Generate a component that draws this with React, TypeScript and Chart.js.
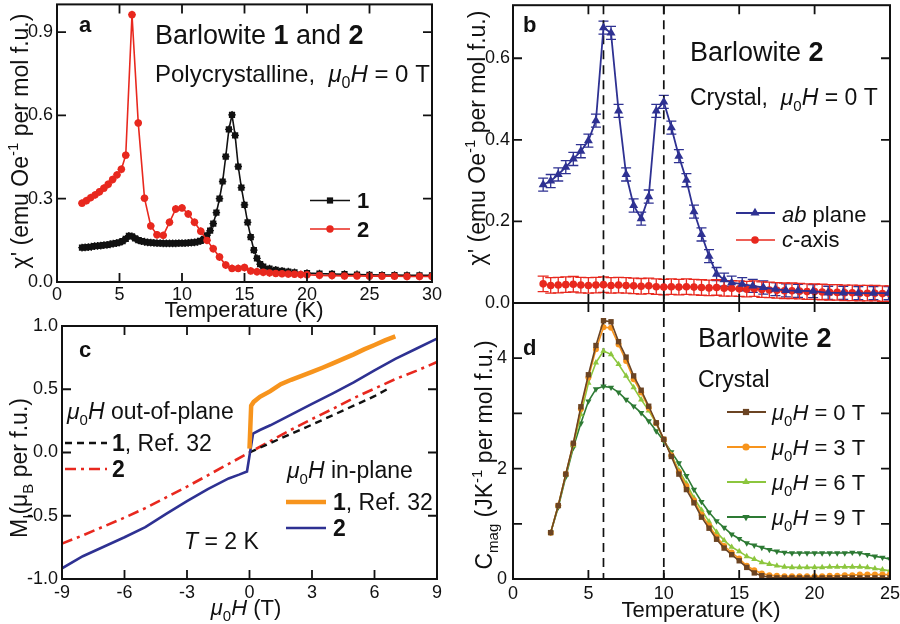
import React, { useEffect, useRef } from 'react';
import { Chart, registerables } from 'chart.js';
import { drawPoint } from 'chart.js/helpers';

Chart.register(...registerables);

const FONT = '"Liberation Sans", Arial, Helvetica, sans-serif';
const INK = '#111111';
const RED = '#e8281e';
const NAVY = '#2e3192';
const ORANGE = '#f7941d';
const BROWN = '#6b4423';
const LGREEN = '#8cc63e';
const DGREEN = '#2d7a34';

// ---------------- Panel a: polycrystalline chi' ----------------
const aT1 = [2, 2.25, 2.5, 2.75, 3, 3.25, 3.5, 3.75, 4, 4.25, 4.5, 4.75, 5, 5.25, 5.5, 5.75, 6, 6.25, 6.5, 6.75, 7, 7.25, 7.5, 7.75, 8, 8.25, 8.5, 8.75, 9, 9.25, 9.5, 9.75, 10, 10.25, 10.5, 10.75, 11, 11.25, 11.5, 11.75, 12, 12.25, 12.5, 12.75, 13, 13.25, 13.5, 13.75, 14, 14.25, 14.5, 14.75, 15, 15.25, 15.5, 15.75, 16, 16.25, 16.5, 17, 17.5, 18, 18.5, 19, 20, 21, 22, 23, 24, 25, 26, 27, 28, 29, 30];
const aChi1 = [0.124, 0.125, 0.126, 0.127, 0.129, 0.130, 0.131, 0.133, 0.134, 0.136, 0.138, 0.140, 0.143, 0.147, 0.155, 0.166, 0.164, 0.157, 0.151, 0.147, 0.145, 0.143, 0.142, 0.141, 0.140, 0.140, 0.139, 0.139, 0.139, 0.139, 0.139, 0.140, 0.140, 0.140, 0.141, 0.142, 0.143, 0.145, 0.148, 0.155, 0.168, 0.185, 0.210, 0.250, 0.300, 0.362, 0.452, 0.550, 0.602, 0.528, 0.416, 0.340, 0.278, 0.215, 0.162, 0.115, 0.085, 0.064, 0.055, 0.048, 0.044, 0.040, 0.037, 0.035, 0.032, 0.030, 0.029, 0.028, 0.027, 0.026, 0.025, 0.025, 0.024, 0.024, 0.024];
const aT2 = [2, 2.35, 2.7, 3.05, 3.4, 3.75, 4.1, 4.45, 4.8, 5.15, 5.5, 6, 6.5, 7, 7.5, 8, 8.5, 9, 9.5, 10, 10.5, 11, 11.5, 12, 12.5, 13, 13.5, 14, 14.5, 15, 15.5, 16, 16.5, 17, 17.5, 18, 18.5, 19, 19.5, 20, 21, 22, 23, 24, 25, 26, 27, 28, 29, 30];
const aChi2 = [0.284, 0.293, 0.304, 0.314, 0.325, 0.338, 0.352, 0.369, 0.386, 0.406, 0.457, 0.963, 0.573, 0.302, 0.202, 0.170, 0.168, 0.215, 0.263, 0.267, 0.245, 0.215, 0.183, 0.150, 0.120, 0.090, 0.061, 0.049, 0.049, 0.052, 0.040, 0.037, 0.035, 0.033, 0.031, 0.030, 0.029, 0.028, 0.027, 0.026, 0.024, 0.023, 0.022, 0.022, 0.021, 0.021, 0.021, 0.020, 0.020, 0.020];
const aXTicks = [0, 5, 10, 15, 20, 25, 30];
const aYTicks = [0, 0.3, 0.6, 0.9];

// ---------------- Panel b: crystal chi' ----------------
const bT1 = [2, 2.5, 3, 3.5, 4, 4.5, 5, 5.5, 6, 6.5, 7, 7.5, 8, 8.5, 9, 9.5, 10, 10.5, 11, 11.5, 12, 12.5, 13, 13.5, 14, 14.5, 15.2, 15.9, 16.6, 17.4, 18.1, 18.9, 19.9, 20.9, 21.9, 22.9, 23.9, 24.9];
const bChiAb = [0.290, 0.299, 0.315, 0.333, 0.353, 0.372, 0.398, 0.447, 0.675, 0.662, 0.471, 0.315, 0.239, 0.207, 0.261, 0.471, 0.493, 0.430, 0.360, 0.301, 0.224, 0.168, 0.115, 0.071, 0.057, 0.050, 0.046, 0.042, 0.038, 0.034, 0.031, 0.030, 0.029, 0.025, 0.025, 0.024, 0.024, 0.024];
const bT2 = [2, 2.5, 3, 3.5, 4, 4.5, 5, 5.5, 6, 6.5, 7, 7.5, 8, 8.5, 9, 9.5, 10, 10.5, 11, 11.5, 12, 12.5, 13, 13.5, 14, 14.5, 15, 15.5, 16, 16.5, 17, 17.5, 18, 18.5, 19, 19.5, 20, 20.5, 21, 21.5, 22, 22.5, 23, 23.5, 24, 24.5, 25];
const bChiC = [0.047, 0.043, 0.044, 0.045, 0.046, 0.044, 0.043, 0.044, 0.045, 0.043, 0.044, 0.043, 0.042, 0.041, 0.042, 0.040, 0.039, 0.040, 0.039, 0.040, 0.039, 0.038, 0.037, 0.038, 0.036, 0.036, 0.035, 0.034, 0.035, 0.033, 0.032, 0.031, 0.030, 0.030, 0.029, 0.028, 0.028, 0.027, 0.026, 0.026, 0.025, 0.025, 0.024, 0.024, 0.024, 0.023, 0.023];
const bXTicks = [0, 5, 10, 15, 20, 25];
const bYTicks = [0, 0.2, 0.4, 0.6];
const markTemps = [6, 10];

// ---------------- Panel c: magnetization ----------------
const cH2in = [-9, -8, -7, -6, -5, -4, -3, -2, -1, -0.5, -0.12, 0.17, 0.5, 1, 2, 3, 4, 5, 6, 7, 8, 9];
const cM2in = [-0.916, -0.82, -0.745, -0.67, -0.59, -0.485, -0.385, -0.29, -0.205, -0.175, -0.15, 0.15, 0.178, 0.215, 0.30, 0.385, 0.468, 0.555, 0.65, 0.74, 0.82, 0.90];
const cH1in = [0, 0.04, 0.08, 0.2, 0.5, 1, 1.5, 2, 2.5, 3, 3.5, 4, 4.5, 5, 5.5, 6, 6.5, 7];
const cM1in = [0.03, 0.2, 0.37, 0.40, 0.44, 0.485, 0.54, 0.575, 0.605, 0.637, 0.67, 0.704, 0.74, 0.776, 0.815, 0.85, 0.886, 0.918];
const cH2out = [-9, -8, -7, -6, -5, -4, -3, -2, -1, 0, 1, 2, 3, 4, 5, 6, 7, 8, 9];
const cM2out = [-0.72, -0.655, -0.585, -0.515, -0.44, -0.355, -0.27, -0.18, -0.09, 0, 0.09, 0.18, 0.265, 0.345, 0.43, 0.505, 0.58, 0.645, 0.715];
const cH1out = [0, 1, 2, 3, 4, 5, 6, 6.6];
const cM1out = [0, 0.075, 0.148, 0.22, 0.295, 0.37, 0.445, 0.50];
const cXTicks = [-9, -6, -3, 0, 3, 6, 9];
const cYTicks = [-1, -0.5, 0, 0.5, 1];

// ---------------- Panel d: magnetic heat capacity ----------------
const dT = [2.5, 3, 3.5, 4, 4.5, 5, 5.5, 6, 6.5, 7, 7.5, 8, 8.5, 9, 9.5, 10, 10.5, 11, 11.5, 12, 12.5, 13, 13.5, 14, 14.5, 15, 15.5, 16, 16.5, 17, 17.5, 18, 18.5, 19, 19.5, 20, 20.5, 21, 21.5, 22, 22.5, 23, 23.5, 24, 24.5, 25];
const dC0 = [0.84, 1.33, 1.90, 2.46, 3.12, 3.70, 4.23, 4.68, 4.66, 4.30, 4.02, 3.68, 3.42, 3.13, 2.83, 2.53, 2.22, 1.90, 1.62, 1.38, 1.12, 0.92, 0.72, 0.56, 0.44, 0.33, 0.21, 0.11, 0.06, 0.03, 0.02, 0.02, 0.02, 0.02, 0.02, 0.02, 0.02, 0.02, 0.02, 0.02, 0.02, 0.02, 0.02, 0.02, 0.02, 0.02];
const dC3 = [0.84, 1.33, 1.90, 2.45, 3.08, 3.65, 4.16, 4.56, 4.55, 4.25, 3.95, 3.62, 3.38, 3.10, 2.82, 2.53, 2.24, 1.94, 1.68, 1.42, 1.17, 0.97, 0.76, 0.60, 0.48, 0.37, 0.24, 0.16, 0.10, 0.07, 0.06, 0.05, 0.05, 0.05, 0.05, 0.05, 0.05, 0.06, 0.06, 0.07, 0.07, 0.08, 0.08, 0.08, 0.08, 0.08];
const dC6 = [0.84, 1.33, 1.89, 2.42, 2.98, 3.55, 3.92, 4.13, 4.07, 3.89, 3.68, 3.47, 3.25, 3.05, 2.82, 2.52, 2.25, 1.97, 1.73, 1.47, 1.25, 1.04, 0.85, 0.70, 0.58, 0.50, 0.41, 0.36, 0.30, 0.27, 0.24, 0.22, 0.21, 0.21, 0.21, 0.21, 0.21, 0.22, 0.22, 0.22, 0.22, 0.22, 0.21, 0.19, 0.17, 0.15];
const dC9 = [0.84, 1.30, 1.85, 2.38, 2.82, 3.22, 3.44, 3.49, 3.47, 3.38, 3.25, 3.13, 3.01, 2.86, 2.68, 2.50, 2.30, 2.10, 1.87, 1.62, 1.40, 1.21, 1.05, 0.93, 0.81, 0.73, 0.65, 0.61, 0.57, 0.53, 0.50, 0.48, 0.47, 0.47, 0.47, 0.47, 0.47, 0.47, 0.47, 0.47, 0.48, 0.47, 0.44, 0.41, 0.39, 0.36];
const dXTicks = [0, 5, 10, 15, 20, 25];
const dYTicks = [0, 1, 2, 3, 4, 5];
const dFields = ['0', '3', '6', '9'];

// ---------------- helpers ----------------
const zip = (xs: number[], ys: number[]) => xs.map((x, i) => ({ x, y: ys[i] }));

type Seg = { t: string; b?: boolean; i?: boolean; sub?: boolean; sup?: boolean };

function segFont(s: Seg, size: number) {
  const sz = s.sub || s.sup ? Math.round(size * 0.66) : size;
  return `${s.i ? 'italic ' : ''}${s.b ? 'bold ' : ''}${sz}px ${FONT}`;
}

function richWidth(ctx: CanvasRenderingContext2D, segs: Seg[], size: number) {
  let w = 0;
  for (const s of segs) {
    ctx.font = segFont(s, size);
    w += ctx.measureText(s.t).width;
  }
  return w;
}

function drawRich(ctx: CanvasRenderingContext2D, segs: Seg[], x: number, y: number, size: number, align: 'left' | 'center' = 'left', rot = 0, color = INK) {
  ctx.save();
  ctx.translate(x, y);
  if (rot) ctx.rotate(rot);
  ctx.fillStyle = color;
  ctx.textBaseline = 'alphabetic';
  ctx.textAlign = 'left';
  const w = richWidth(ctx, segs, size);
  let cx = align === 'center' ? -w / 2 : 0;
  for (const s of segs) {
    ctx.font = segFont(s, size);
    const dy = s.sub ? size * 0.27 : s.sup ? -size * 0.42 : 0;
    ctx.fillText(s.t, cx, dy);
    cx += ctx.measureText(s.t).width;
  }
  ctx.restore();
}

function legLine(ctx: CanvasRenderingContext2D, x1: number, x2: number, y: number, color: string, width: number, dash: number[] = []) {
  ctx.save();
  ctx.strokeStyle = color;
  ctx.lineWidth = width;
  ctx.setLineDash(dash);
  ctx.beginPath();
  ctx.moveTo(x1, y);
  ctx.lineTo(x2, y);
  ctx.stroke();
  ctx.restore();
}

function legMarker(ctx: CanvasRenderingContext2D, style: string, x: number, y: number, radius: number, color: string, rotation = 0) {
  ctx.save();
  ctx.fillStyle = color;
  ctx.strokeStyle = color;
  drawPoint(ctx, { pointStyle: style as any, rotation, radius, borderWidth: 0 } as any, x, y);
  ctx.restore();
}

const MU0H: Seg[] = [{ t: 'μ', i: true }, { t: '0', sub: true }, { t: 'H', i: true }];

// ---------------- plugins ----------------
const errPlugin = {
  id: 'errbars',
  beforeDatasetsDraw(chart: any) {
    const { ctx, chartArea: a, scales } = chart;
    ctx.save();
    ctx.beginPath();
    ctx.rect(a.left, a.top, a.right - a.left, a.bottom - a.top);
    ctx.clip();
    chart.data.datasets.forEach((ds: any, i: number) => {
      if (!ds.errY && !ds.errX) return;
      const meta = chart.getDatasetMeta(i);
      ctx.strokeStyle = ds.errColor || ds.borderColor;
      ctx.lineWidth = 1.3;
      meta.data.forEach((pt: any, j: number) => {
        const raw = ds.data[j];
        const x = pt.x;
        const y = pt.y;
        ctx.beginPath();
        if (ds.errY) {
          const y1 = scales.y.getPixelForValue(raw.y + ds.errY);
          const y2 = scales.y.getPixelForValue(raw.y - ds.errY);
          ctx.moveTo(x, y1);
          ctx.lineTo(x, y2);
          if (ds.cap) {
            ctx.moveTo(x - ds.cap, y1);
            ctx.lineTo(x + ds.cap, y1);
            ctx.moveTo(x - ds.cap, y2);
            ctx.lineTo(x + ds.cap, y2);
          }
        }
        if (ds.errX) {
          const x1 = scales.x.getPixelForValue(raw.x - ds.errX);
          const x2 = scales.x.getPixelForValue(raw.x + ds.errX);
          ctx.moveTo(x1, y);
          ctx.lineTo(x2, y);
        }
        ctx.stroke();
      });
    });
    ctx.restore();
  },
};

function vlinePlugin(values: number[]) {
  return {
    id: 'vlines',
    beforeDatasetsDraw(chart: any) {
      const { ctx, chartArea: a, scales } = chart;
      ctx.save();
      ctx.strokeStyle = INK;
      ctx.lineWidth = 1.7;
      ctx.setLineDash([9, 6]);
      for (const v of values) {
        const px = scales.x.getPixelForValue(v);
        ctx.beginPath();
        ctx.moveTo(px, a.top);
        ctx.lineTo(px, a.bottom);
        ctx.stroke();
      }
      ctx.restore();
    },
  };
}

const framePlugin = {
  id: 'frameTicks',
  afterDatasetsDraw(chart: any) {
    const { ctx, chartArea: a, scales } = chart;
    const L = 9;
    ctx.save();
    ctx.strokeStyle = INK;
    ctx.lineWidth = 1.8;
    ctx.beginPath();
    for (const t of scales.x.ticks) {
      const px = scales.x.getPixelForValue(t.value);
      if (px < a.left + 2 || px > a.right - 2) continue;
      ctx.moveTo(px, a.top);
      ctx.lineTo(px, a.top + L);
      ctx.moveTo(px, a.bottom);
      ctx.lineTo(px, a.bottom - L);
    }
    for (const t of scales.y.ticks) {
      const py = scales.y.getPixelForValue(t.value);
      if (py < a.top + 2 || py > a.bottom - 2) continue;
      ctx.moveTo(a.left, py);
      ctx.lineTo(a.left + L, py);
      ctx.moveTo(a.right, py);
      ctx.lineTo(a.right - L, py);
    }
    ctx.stroke();
    ctx.lineWidth = 2;
    ctx.strokeRect(a.left, a.top, a.right - a.left, a.bottom - a.top);
    ctx.restore();
  },
};

// ---------------- panel specs ----------------
type Spec = {
  left: number; top: number; width: number; height: number;
  padTop: number; padRight: number; yWidth: number; xHeight: number;
  xMin: number; xMax: number; xTicks: number[]; xFmt: (v: number) => string; xShow: boolean; xPad: number;
  yMin: number; yMax: number; yTicks: number[]; yFmt: (v: number) => string; yPad: number;
  datasets: any[]; vlines: number[];
  draw: (ctx: CanvasRenderingContext2D) => void;
};

const specA: Spec = {
  left: 0, top: 0, width: 445, height: 324,
  padTop: 1, padRight: 13, yWidth: 57, xHeight: 42,
  xMin: 0, xMax: 30, xTicks: aXTicks, xFmt: (v) => String(v), xShow: true, xPad: 2,
  yMin: 0, yMax: 1.0, yTicks: aYTicks, yFmt: (v) => v.toFixed(1), yPad: 4,
  vlines: [],
  datasets: [
    { data: zip(aT2, aChi2), borderColor: RED, backgroundColor: RED, borderWidth: 1.6, pointStyle: 'circle', pointRadius: 3.7, pointBorderWidth: 0, errX: 0.3, errY: 0.014, order: 0 },
    { data: zip(aT1, aChi1), borderColor: INK, backgroundColor: INK, borderWidth: 1.6, pointStyle: 'rect', pointRadius: 4.4, pointBorderWidth: 0, errX: 0.3, errY: 0.014, order: 1 },
  ],
  draw: (ctx) => {
    drawRich(ctx, [{ t: 'a', b: true }], 79, 32, 22);
    drawRich(ctx, [{ t: 'Barlowite ' }, { t: '1', b: true }, { t: ' and ' }, { t: '2', b: true }], 155, 44, 27);
    drawRich(ctx, [{ t: 'Polycrystalline,  ' }, ...MU0H, { t: ' = 0 T' }], 155, 82, 24);
    legLine(ctx, 310, 350, 200.5, INK, 1.6);
    legMarker(ctx, 'rect', 330, 200.5, 4.4, INK);
    drawRich(ctx, [{ t: '1', b: true }], 357, 208, 22);
    legLine(ctx, 310, 350, 229, RED, 1.6);
    legMarker(ctx, 'circle', 330, 229, 3.7, RED);
    drawRich(ctx, [{ t: '2', b: true }], 357, 237, 22);
    drawRich(ctx, [{ t: "χ' (emu Oe" }, { t: '-1', sup: true }, { t: ' per mol f.u.)' }], 28, 141, 23, 'center', -Math.PI / 2);
    drawRich(ctx, [{ t: 'Temperature (K)' }], 244, 317, 22, 'center');
  },
};

const specB: Spec = {
  left: 445, top: 0, width: 455, height: 316,
  padTop: 1, padRight: 10, yWidth: 68, xHeight: 13,
  xMin: 0, xMax: 25, xTicks: bXTicks, xFmt: (v) => String(v), xShow: false, xPad: 2,
  yMin: 0, yMax: 0.73, yTicks: bYTicks, yFmt: (v) => v.toFixed(1), yPad: 3,
  vlines: markTemps,
  datasets: [
    { data: zip(bT1, bChiAb), borderColor: NAVY, backgroundColor: NAVY, borderWidth: 1.8, pointStyle: 'triangle', pointRadius: 5.2, pointBorderWidth: 0, errY: 0.016, cap: 5, order: 0 },
    { data: zip(bT2, bChiC), borderColor: RED, backgroundColor: RED, borderWidth: 1.6, pointStyle: 'circle', pointRadius: 3.8, pointBorderWidth: 0, errY: 0.019, cap: 5.5, order: 1 },
  ],
  draw: (ctx) => {
    drawRich(ctx, [{ t: 'b', b: true }], 523, 32, 22);
    drawRich(ctx, [{ t: 'Barlowite ' }, { t: '2', b: true }], 690, 61, 27);
    drawRich(ctx, [{ t: 'Crystal,  ' }, ...MU0H, { t: ' = 0 T' }], 690, 105, 23);
    legLine(ctx, 736, 775, 213, NAVY, 1.8);
    legMarker(ctx, 'triangle', 755, 213, 5.2, NAVY);
    drawRich(ctx, [{ t: 'ab', i: true }, { t: ' plane' }], 782, 222, 22);
    legLine(ctx, 736, 775, 240, RED, 1.6);
    legMarker(ctx, 'circle', 755, 240, 3.8, RED);
    drawRich(ctx, [{ t: 'c', i: true }, { t: '-axis' }], 782, 247, 22);
    drawRich(ctx, [{ t: "χ' (emu Oe" }, { t: '-1', sup: true }, { t: ' per mol f.u.)' }], 485, 138, 23, 'center', -Math.PI / 2);
  },
};

const specC: Spec = {
  left: 0, top: 316, width: 445, height: 308,
  padTop: 10, padRight: 8, yWidth: 62, xHeight: 45,
  xMin: -9, xMax: 9, xTicks: cXTicks, xFmt: (v) => String(v), xShow: true, xPad: 3,
  yMin: -1, yMax: 1, yTicks: cYTicks, yFmt: (v) => v.toFixed(1), yPad: 4,
  vlines: [],
  datasets: [
    { data: zip(cH1in, cM1in), borderColor: ORANGE, borderWidth: 4.5, pointRadius: 0, order: 0 },
    { data: zip(cH2in, cM2in), borderColor: NAVY, borderWidth: 2.6, pointRadius: 0, order: 1 },
    { data: zip(cH1out, cM1out), borderColor: INK, borderWidth: 2.4, borderDash: [7, 5], pointRadius: 0, order: 2 },
    { data: zip(cH2out, cM2out), borderColor: RED, borderWidth: 2.6, borderDash: [11, 5, 3, 5], pointRadius: 0, order: 3 },
  ],
  draw: (ctx) => {
    drawRich(ctx, [{ t: 'c', b: true }], 79, 357, 22);
    drawRich(ctx, [...MU0H, { t: ' out-of-plane' }], 67, 419, 23);
    legLine(ctx, 65, 107, 443, INK, 2.4, [7, 5]);
    drawRich(ctx, [{ t: '1', b: true }, { t: ', Ref. 32' }], 112, 451, 23);
    legLine(ctx, 65, 107, 469, RED, 2.6, [11, 5, 3, 5]);
    drawRich(ctx, [{ t: '2', b: true }], 112, 477, 23);
    drawRich(ctx, [...MU0H, { t: ' in-plane' }], 287, 478, 23);
    legLine(ctx, 286, 326, 502, ORANGE, 4.5);
    drawRich(ctx, [{ t: '1', b: true }, { t: ', Ref. 32' }], 333, 510, 23);
    legLine(ctx, 286, 326, 528, NAVY, 2.6);
    drawRich(ctx, [{ t: '2', b: true }], 333, 536, 23);
    drawRich(ctx, [{ t: 'T', i: true }, { t: ' = 2 K' }], 184, 549, 23);
    drawRich(ctx, [{ t: 'M' }, { t: 'I', sub: true }, { t: '(μ' }, { t: 'B', sub: true }, { t: ' per f.u.)' }], 27, 468, 23, 'center', -Math.PI / 2);
    drawRich(ctx, [...MU0H, { t: ' (T)' }], 246, 615, 22, 'center');
  },
};

const dColors = [BROWN, ORANGE, LGREEN, DGREEN];
const dStyles = ['rect', 'circle', 'triangle', 'triangle'];
const dRot = [0, 0, 0, 180];
const dRad = [3.8, 3.0, 3.6, 3.6];
const dSeries = [dC0, dC3, dC6, dC9];

const specD: Spec = {
  left: 445, top: 296, width: 455, height: 328,
  padTop: 7, padRight: 10, yWidth: 68, xHeight: 45,
  xMin: 0, xMax: 25, xTicks: dXTicks, xFmt: (v) => String(v), xShow: true, xPad: 4,
  yMin: 0, yMax: 5, yTicks: dYTicks, yFmt: (v) => (v % 2 === 0 ? String(v) : ''), yPad: 6,
  vlines: markTemps,
  datasets: dSeries.map((vals, k) => ({
    data: zip(dT, vals), borderColor: dColors[k], backgroundColor: dColors[k], borderWidth: 1.6,
    pointStyle: dStyles[k], pointRotation: dRot[k], pointRadius: dRad[k], pointBorderWidth: 0, order: k,
  })),
  draw: (ctx) => {
    drawRich(ctx, [{ t: 'd', b: true }], 523, 355, 22);
    drawRich(ctx, [{ t: 'Barlowite ' }, { t: '2', b: true }], 698, 347, 27);
    drawRich(ctx, [{ t: 'Crystal' }], 698, 387, 23);
    const rows = [412, 447, 482, 517];
    rows.forEach((y, k) => {
      legLine(ctx, 727, 766, y, dColors[k], 1.8);
      legMarker(ctx, dStyles[k], 746, y, dRad[k] + 0.6, dColors[k], dRot[k]);
      drawRich(ctx, [...MU0H, { t: ` = ${dFields[k]} T` }], 772, y + 8, 22);
    });
    drawRich(ctx, [{ t: 'C' }, { t: 'mag', sub: true }, { t: ' (JK' }, { t: '-1', sup: true }, { t: ' per mol f.u.)' }], 492, 455, 23, 'center', -Math.PI / 2);
    drawRich(ctx, [{ t: 'Temperature (K)' }], 701, 617, 22, 'center');
  },
};

const specs = [specA, specB, specC, specD];

function buildConfig(p: Spec): any {
  const fixScale = (isX: boolean) => (s: any) => {
    if (isX) s.height = p.xHeight;
    else s.width = p.yWidth;
    s.paddingLeft = 0;
    s.paddingRight = 0;
    s.paddingTop = 0;
    s.paddingBottom = 0;
  };
  return {
    type: 'line',
    data: { datasets: p.datasets.map((d) => ({ tension: 0, fill: false, ...d })) },
    options: {
      responsive: false,
      maintainAspectRatio: false,
      animation: false,
      events: [],
      layout: { padding: { left: 0, top: p.padTop, right: p.padRight, bottom: 0 } },
      plugins: { legend: { display: false }, tooltip: { enabled: false }, title: { display: false } },
      scales: {
        x: {
          type: 'linear', min: p.xMin, max: p.xMax,
          grid: { display: false, drawTicks: false }, border: { display: false },
          ticks: {
            display: p.xShow, autoSkip: false, maxRotation: 0, minRotation: 0, padding: p.xPad,
            color: INK, font: { family: FONT, size: 18 }, callback: (v: number) => p.xFmt(v),
          },
          afterBuildTicks: (s: any) => { s.ticks = p.xTicks.map((v) => ({ value: v })); },
          afterFit: fixScale(true),
        },
        y: {
          type: 'linear', min: p.yMin, max: p.yMax,
          grid: { display: false, drawTicks: false }, border: { display: false },
          ticks: {
            autoSkip: false, padding: p.yPad, color: INK, font: { family: FONT, size: 18 },
            callback: (v: number) => p.yFmt(v),
          },
          afterBuildTicks: (s: any) => { s.ticks = p.yTicks.map((v) => ({ value: v })); },
          afterFit: fixScale(false),
        },
      },
    },
    plugins: [
      errPlugin,
      vlinePlugin(p.vlines),
      framePlugin,
      {
        id: 'annot',
        afterDraw(chart: any) {
          const ctx = chart.ctx as CanvasRenderingContext2D;
          ctx.save();
          ctx.translate(-p.left, -p.top);
          p.draw(ctx);
          ctx.restore();
        },
      },
    ],
  };
}

function Panel({ spec }: { spec: Spec }) {
  const ref = useRef<HTMLCanvasElement>(null);
  useEffect(() => {
    const chart = new Chart(ref.current as HTMLCanvasElement, buildConfig(spec));
    return () => chart.destroy();
  }, [spec]);
  return (
    <canvas
      ref={ref}
      width={spec.width}
      height={spec.height}
      style={{ position: 'absolute', left: spec.left, top: spec.top, width: spec.width, height: spec.height }}
    />
  );
}

export default function App() {
  return (
    <div style={{ position: 'absolute', left: 0, top: 0, width: 900, height: 624, background: '#ffffff', overflow: 'hidden' }}>
      {specs.map((s, i) => (
        <Panel key={i} spec={s} />
      ))}
    </div>
  );
}
